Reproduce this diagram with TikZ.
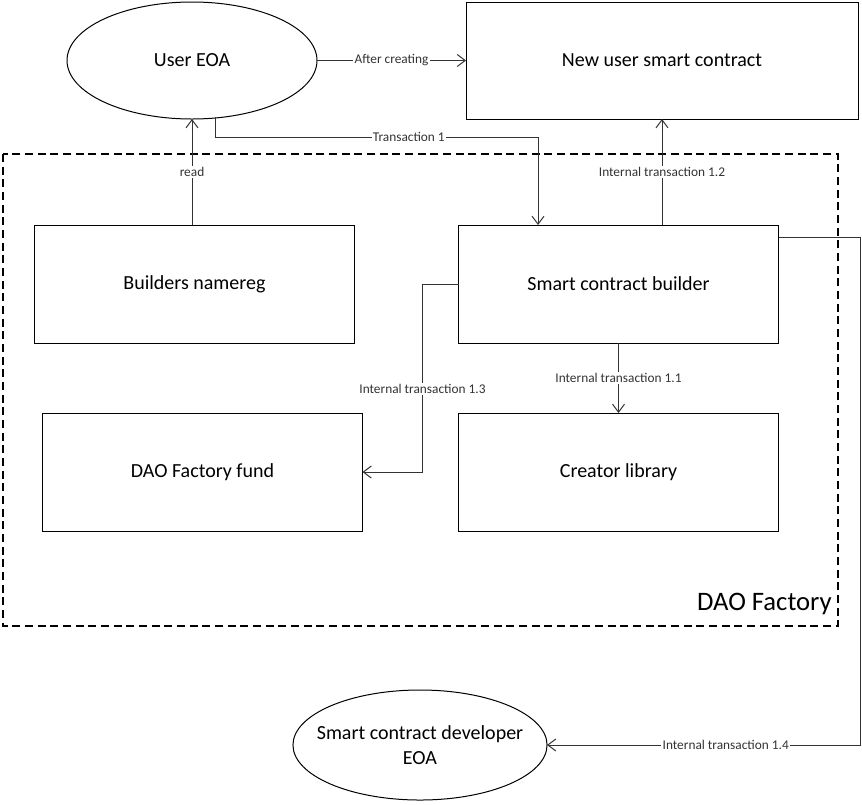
\documentclass[tikz,border=0pt]{standalone}
\usepackage{fontspec}
\setmainfont{Carlito}
\usetikzlibrary{arrows.meta,positioning,calc,shapes.geometric}
\tikzset{
    block/.style={rectangle,draw,line width=0.75pt,minimum width=240pt,minimum height=88.5pt,inner sep=0pt,outer sep=0pt,font=\fontsize{15}{19}\selectfont},
    entity/.style={ellipse,draw,line width=0.75pt,inner sep=0pt,outer sep=0pt,align=center,font=\fontsize{15}{19}\selectfont},
    pre/.style={-{Straight Barb[length=6pt,width=9pt]},line width=0.75pt,black!80},
    lbl/.style={fill=white,inner sep=1pt,font=\fontsize{10}{12}\selectfont}
}

\begin{document}
\begin{tikzpicture}[x=0.75pt,y=-0.75pt]

                \useasboundingbox (0,0) rectangle (862,804);

                % DAO Factory frame
                \draw[dash pattern=on 6pt off 3.5pt,line width=0.85pt] (3,154) rectangle (838,626);
                \node[anchor=south east,inner sep=0pt,font=\fontsize{20}{24}\selectfont] (daof) at (832,615) {DAO Factory};

                \node[entity,minimum width=187.5pt,minimum height=87.75pt] (ueoa) at (192,60.5) {User EOA};
                \node[block,minimum width=294pt,minimum height=87.75pt] (nusc) at (662,60.5) {New user smart contract};

                \node[block] (scb)  at (618.5,284)              {Smart contract builder};
                \node[block] (bnr)  [left=78pt of scb]          {Builders namereg};
                \node[block] (clib) [below=52.5pt of scb]       {Creator library};
                \node[block] (fund) [left=72pt of clib]         {DAO Factory fund};

                \node[entity,inner xsep=-10pt,minimum width=190.5pt,minimum height=82.5pt] (dev) at (420,745) {Smart contract developer\\EOA};

                % connectors
                \draw[pre] (ueoa.east) -- node[lbl]{After creating} (nusc.west);
                \draw[pre] ($(ueoa.south)+(23,-2)$) |- node[lbl,pos=0.8]{Transaction 1} (538,137) -- (scb.north -| 538,0);
                \draw[pre] (bnr.north -| ueoa.south) -- node[lbl]{read} (ueoa.south);
                \draw[pre] (scb.north -| nusc.south) -- node[lbl]{Internal transaction 1.2} (nusc.south);
                \draw[pre] (scb.south) -- node[lbl]{Internal transaction 1.1} (clib.north);
                \draw[pre] (scb.west) -- ++(-36,0) |- node[lbl,pos=0.28]{Internal transaction 1.3} (fund.east);
                \draw[pre] ($(scb.north east)+(0,12)$) -- ++(82,0) |- node[lbl,pos=0.715]{Internal transaction 1.4} (dev.east);

            \end{tikzpicture}
\end{document}
